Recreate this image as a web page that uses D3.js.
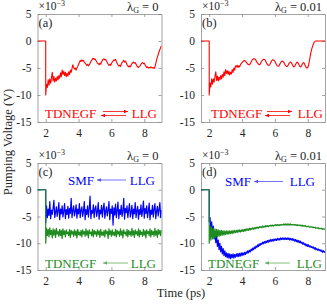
<!DOCTYPE html>
<html><head><meta charset="utf-8">
<script src="https://cdn.jsdelivr.net/npm/d3@7"></script>
<style>
html,body{margin:0;padding:0;background:#fff;}
svg{display:block;}
</style></head>
<body><svg id="chart" width="327" height="305"></svg>
<script>
// ---------- data ----------
const xDomain = [1.5, 9.05];
const yDomain = [-15, 5];
const xTicks = [2, 4, 6, 8];
const yTicks = [5, 0, -5, -10, -15];
const preT = [1.5, 2.0];       // flat segment before the pulse
const preV = [0, 0];
const tStart = 2.0, dt = 0.05; // sampling of the series below

const aRed = [-10,-8.0,-8.6,-7.2,-8.2,-7.0,-7.8,-6.8,-5.8,-7.4,-6.6,-7.6,-6.9,-7.4,-6.6,-7.2,-6.4,-6.9,-5.9,-6.6,
-5.4,-6.2,-5.6,-6.4,-5.8,-6.6,-6.0,-6.5,-5.7,-6.2,-5.4,-5.8,-5.1,-4.4,-4.9,-5.2,-5.0,-5.4,-5.0,-4.7,
-4.3,-4.0,-3.6,-3.8,-3.5,-3.7,-3.6,-3.9,-4.1,-4.3,-4.5,-4.3,-4.6,-4.4,-4.1,-3.8,-3.6,-3.3,-3.2,-3.4,
-3.3,-3.6,-3.8,-4.1,-4.2,-4.4,-4.1,-4.3,-3.9,-3.6,-3.4,-3.3,-3.5,-3.4,-3.7,-4.0,-4.3,-4.5,-4.3,-4.5,
-4.2,-3.9,-3.7,-3.5,-3.6,-3.4,-3.8,-4.1,-4.4,-4.6,-4.5,-4.7,-4.3,-4.0,-3.8,-3.6,-3.9,-3.7,-4.0,-4.4,
-4.6,-4.8,-4.6,-4.8,-4.5,-4.2,-4.0,-3.9,-4.1,-4.0,-4.3,-4.6,-4.8,-4.9,-4.7,-4.6,-4.3,-4.1,-4.0,-4.2,
-4.1,-4.4,-4.7,-4.9,-4.8,-5.0,-4.9,-5.0,-4.8,-4.9,-5.0,-4.9,-5.1,-4.8,-4.2,-3.5,-3.0,-2.5,-2.0,-1.6,
-1.2,-0.9];

const bRed = [-10,-7.8,-8.5,-7.0,-8.0,-7.0,-7.6,-6.6,-5.7,-7.3,-6.5,-7.4,-6.7,-7.2,-6.4,-7.0,-6.2,-6.7,-5.7,-6.4,
-5.3,-6.0,-5.5,-6.2,-5.6,-6.3,-5.8,-6.1,-5.3,-5.8,-5.0,-5.4,-4.6,-4.8,-4.5,-4.9,-4.6,-4.8,-4.4,-4.2,
-4.0,-3.8,-3.7,-3.6,-3.7,-3.9,-4.1,-4.3,-4.4,-4.4,-4.2,-3.9,-3.6,-3.4,-3.3,-3.3,-3.4,-3.6,-3.9,-4.1,
-4.3,-4.4,-4.3,-4.0,-3.7,-3.5,-3.4,-3.4,-3.5,-3.8,-4.1,-4.4,-4.5,-4.5,-4.3,-4.0,-3.7,-3.5,-3.5,-3.6,
-3.8,-4.1,-4.4,-4.6,-4.7,-4.6,-4.3,-4.0,-3.8,-3.7,-3.8,-4.0,-4.3,-4.6,-4.7,-4.7,-4.5,-4.2,-4.0,-3.9,
-4.0,-4.3,-4.6,-4.8,-4.7,-4.4,-4.1,-3.9,-4.0,-4.3,-4.6,-4.8,-4.7,-4.4,-4.1,-4.0,-4.2,-4.6,-4.9,-5.0,
-4.9,-4.5,-3.7,-2.8,-2.0,-1.4,-0.9,-0.5,-0.2,-0.05,0,0,0,0,0,0,0,0,0,0,
0,0];

const cBlue = [-6.2,-3.0,-5.2,-3.6,-4.8,-2.2,-5.4,-3.8,-4.6,-3.4,-2.0,-5.2,-4.2,-3.2,-5.0,-3.9,-2.4,-5.6,-3.6,-4.5,
-3.0,-5.1,-4.0,-2.6,-5.4,-3.7,-4.6,-3.1,-5.3,-3.5,-4.4,-1.6,-5.2,-3.9,-3.0,-4.9,-4.1,-2.8,-5.3,-3.6,
-4.5,-2.6,-5.2,-3.8,-3.2,-5.0,-4.0,-2.2,-5.6,-3.7,-4.6,-3.0,-5.1,-3.5,-1.2,-5.4,-3.9,-4.4,-2.8,-5.2,
-3.6,-3.0,-5.0,-4.1,-2.4,-5.5,-3.8,-4.5,-2.9,-5.1,-3.5,-2.5,-5.3,-4.0,-3.2,-4.9,-3.9,-2.2,-5.6,-3.6,
-4.4,-3.0,-6.6,-3.4,-4.7,-2.7,-5.2,-3.9,-2.3,-5.4,-3.7,-4.6,-2.9,-5.0,-4.0,-1.6,-5.5,-3.5,-4.3,-3.0,
-5.2,-3.8,-2.6,-5.1,-4.2,-2.9,-5.4,-3.6,-4.5,-2.4,-5.2,-3.9,-3.1,-5.5,-3.7,-4.6,-2.8,-5.0,-3.9,-2.1,
-5.3,-3.5,-4.4,-3.0,-5.2,-4.0,-2.5,-5.6,-3.8,-4.6,-2.9,-5.1,-3.6,-2.6,-5.4,-4.0,-3.1,-4.9,-3.7,-2.4,
-5.2,-3.8];

const cGreen = [-10.0,-7.2,-8.6,-7.4,-8.8,-7.1,-8.4,-7.6,-9.0,-7.3,-8.5,-7.5,-8.9,-7.2,-8.3,-7.8,-8.7,-7.4,-8.6,-7.6,
-9.1,-7.3,-8.4,-7.7,-8.8,-7.5,-8.2,-7.9,-8.6,-7.4,-8.9,-7.6,-8.3,-7.8,-8.7,-7.5,-8.5,-7.7,-9.0,-7.4,
-8.4,-7.9,-8.6,-7.6,-8.8,-7.5,-8.3,-7.8,-8.7,-7.3,-8.5,-7.7,-9.0,-7.5,-8.2,-7.9,-8.6,-7.4,-8.8,-7.6,
-8.3,-7.8,-8.7,-7.5,-8.4,-7.7,-8.9,-7.4,-8.5,-7.9,-8.6,-7.6,-8.8,-7.5,-8.2,-7.8,-9.1,-7.3,-8.4,-7.7,
-8.7,-7.5,-8.5,-7.9,-8.6,-7.4,-8.8,-7.6,-8.3,-7.8,-8.7,-7.3,-8.5,-7.7,-9.0,-7.5,-8.2,-7.9,-8.6,-7.4,
-8.8,-7.6,-8.4,-7.8,-8.7,-7.2,-8.5,-7.7,-8.9,-7.5,-8.3,-7.8,-8.6,-7.3,-8.8,-7.6,-8.4,-7.9,-8.7,-7.4,
-8.5,-7.7,-9.0,-7.5,-8.2,-7.8,-8.6,-7.3,-8.8,-7.6,-8.4,-7.8,-8.7,-7.2,-8.5,-7.7,-8.9,-7.4,-8.3,-7.6,
-8.6,-7.5];

const dBlue = [-6.0,-5.2,-7.8,-6.0,-8.4,-6.8,-9.2,-7.8,-9.9,-8.6,-10.6,-9.4,-11.2,-10.0,-11.6,-10.6,-12.0,-11.0,-12.3,-11.4,
-12.5,-11.8,-12.7,-11.9,-12.8,-12.0,-12.9,-12.1,-12.7,-12.0,-12.8,-12.1,-12.6,-12.0,-12.5,-11.9,-12.5,-11.9,-12.4,-11.8,
-12.3,-11.8,-12.2,-11.7,-12.1,-11.6,-11.9,-11.4,-11.8,-11.3,-11.6,-11.1,-11.4,-10.9,-11.2,-10.7,-11.0,-10.5,-10.8,-10.3,
-10.6,-10.1,-10.4,-10.0,-10.2,-9.8,-10.1,-9.7,-10.0,-9.6,-9.9,-9.5,-9.8,-9.4,-9.7,-9.3,-9.6,-9.3,-9.6,-9.2,
-9.5,-9.2,-9.5,-9.1,-9.4,-9.1,-9.4,-9.0,-9.3,-9.0,-9.3,-9.0,-9.3,-9.0,-9.3,-9.0,-9.3,-9.0,-9.4,-9.1,
-9.4,-9.1,-9.5,-9.2,-9.6,-9.3,-9.7,-9.4,-9.8,-9.5,-9.9,-9.6,-10.0,-9.8,-10.2,-9.9,-10.3,-10.1,-10.5,-10.2,
-10.6,-10.3,-10.7,-10.5,-10.8,-10.6,-10.9,-10.7,-11.1,-10.8,-11.2,-11.0,-11.3,-11.1,-11.4,-11.2,-11.5,-11.3,-11.7,-11.4,
-11.7,-11.5];

const dGreen = [-10.0,-6.8,-9.4,-7.0,-9.2,-7.2,-9.0,-7.3,-8.9,-7.4,-8.8,-7.5,-8.7,-7.6,-8.6,-7.6,-8.5,-7.7,-8.5,-7.7,
-8.4,-7.7,-8.3,-7.7,-8.3,-7.7,-8.2,-7.7,-8.2,-7.6,-8.1,-7.6,-8.0,-7.6,-8.0,-7.5,-7.9,-7.5,-7.9,-7.5,
-7.8,-7.4,-7.8,-7.4,-7.7,-7.3,-7.6,-7.3,-7.6,-7.2,-7.5,-7.2,-7.4,-7.1,-7.4,-7.1,-7.3,-7.0,-7.2,-7.0,
-7.2,-6.9,-7.1,-6.9,-7.1,-6.8,-7.0,-6.8,-7.0,-6.7,-6.9,-6.7,-6.9,-6.7,-6.8,-6.6,-6.8,-6.6,-6.8,-6.6,
-6.7,-6.5,-6.7,-6.5,-6.7,-6.5,-6.7,-6.5,-6.6,-6.5,-6.6,-6.4,-6.6,-6.4,-6.6,-6.4,-6.6,-6.4,-6.6,-6.4,
-6.6,-6.5,-6.6,-6.5,-6.6,-6.5,-6.7,-6.5,-6.7,-6.6,-6.7,-6.6,-6.8,-6.6,-6.8,-6.7,-6.8,-6.7,-6.9,-6.8,
-6.9,-6.8,-7.0,-6.9,-7.0,-6.9,-7.1,-7.0,-7.1,-7.0,-7.2,-7.1,-7.2,-7.1,-7.3,-7.2,-7.3,-7.2,-7.4,-7.3,
-7.4,-7.3];

// ---------- styling / layout ----------
const FONT = "Liberation Serif";
const RED = "#ff0000", BLUE = "#0000ff", GREEN = "#1e8c1e";
const panels = [
  {x0:37.5, x1:161.5, y0:14, y1:122, tag:"(a)", lam:"0",
   series:[{v:aRed,c:RED,w:1.1}],
   notes:[{t:"TDNEGF",x:45,y:118,c:RED,a:"start"},{t:"LLG",x:157,y:118,c:RED,a:"end"},
          {x1:103,x2:128,y:111.5,dir:1,c:RED},{x1:101,x2:126,y:115.5,dir:-1,c:RED}]},
  {x0:201, x1:325, y0:14, y1:122, tag:"(b)", lam:"0.01",
   series:[{v:bRed,c:RED,w:1.1}],
   notes:[{t:"TDNEGF",x:211,y:118,c:RED,a:"start"},{t:"LLG",x:323,y:118,c:RED,a:"end"},
          {x1:267,x2:292,y:111.5,dir:1,c:RED},{x1:265,x2:290,y:115.5,dir:-1,c:RED}]},
  {x0:37.5, x1:161.5, y0:163, y1:270, tag:"(c)", lam:"0",
   series:[{v:cBlue,c:BLUE,w:1.2},{v:cGreen,c:GREEN,w:1.2}],
   notes:[{t:"SMF",x:68,y:184.5,c:BLUE,a:"start"},{t:"LLG",x:155,y:184.5,c:BLUE,a:"end"},
          {x1:97,x2:126,y:180,dir:-1,c:"#5050ff"},
          {t:"TDNEGF",x:45,y:267.5,c:GREEN,a:"start"},{t:"LLG",x:156,y:267.5,c:GREEN,a:"end"},
          {x1:103,x2:128,y:263,dir:-1,c:"#60b060"}]},
  {x0:201, x1:325, y0:163, y1:270, tag:"(d)", lam:"0.01",
   series:[{v:dBlue,c:BLUE,w:1.2},{v:dGreen,c:GREEN,w:1.2}],
   notes:[{t:"SMF",x:225,y:186,c:BLUE,a:"start"},{t:"LLG",x:315,y:186,c:BLUE,a:"end"},
          {x1:254,x2:283,y:181.5,dir:-1,c:"#5050ff"},
          {t:"TDNEGF",x:208,y:267.5,c:GREEN,a:"start"},{t:"LLG",x:322,y:267.5,c:GREEN,a:"end"},
          {x1:265,x2:290,y:263,dir:-1,c:"#60b060"}]}
];

const svg = d3.select("#chart");
const defs = svg.append("defs");
const AX = "#262626";

panels.forEach((p, pi) => {
  const x = d3.scaleLinear().domain(xDomain).range([p.x0, p.x1]);
  const y = d3.scaleLinear().domain(yDomain).range([p.y1, p.y0]);
  const g = svg.append("g");

  defs.append("clipPath").attr("id", "clip" + pi).append("rect")
    .attr("x", p.x0).attr("y", p.y0).attr("width", p.x1 - p.x0).attr("height", p.y1 - p.y0);

  const fmt = d => String(d);
  const axB = g.append("g").attr("transform", `translate(0,${p.y1})`)
    .call(d3.axisBottom(x).tickValues(xTicks).tickSizeInner(-3).tickSizeOuter(0).tickPadding(7).tickFormat(fmt));
  const axT = g.append("g").attr("transform", `translate(0,${p.y0})`)
    .call(d3.axisTop(x).tickValues(xTicks).tickSizeInner(-3).tickSizeOuter(0).tickFormat(""));
  const axL = g.append("g").attr("transform", `translate(${p.x0},0)`)
    .call(d3.axisLeft(y).tickValues(yTicks).tickSizeInner(-3).tickSizeOuter(0).tickPadding(6).tickFormat(fmt));
  const axR = g.append("g").attr("transform", `translate(${p.x1},0)`)
    .call(d3.axisRight(y).tickValues(yTicks).tickSizeInner(-3).tickSizeOuter(0).tickFormat(""));
  [axB, axT, axL, axR].forEach(a => {
    a.attr("font-family", FONT).attr("font-size", 11.5);
    a.select(".domain").attr("stroke", "#8c8c8c").attr("stroke-width", 0.8);
    a.selectAll(".tick line").attr("stroke", "#8c8c8c").attr("stroke-width", 0.8);
    a.selectAll("text").attr("fill", AX);
  });

  // data lines
  const lineGen = d3.line().x(d => x(d[0])).y(d => y(d[1]));
  const plot = g.append("g").attr("clip-path", `url(#clip${pi})`);
  p.series.forEach(s => {
    const pts = preT.map((t, i) => [t, preV[i]]).concat(s.v.map((v, i) => [tStart + i * dt, v]));
    plot.append("path").datum(pts).attr("d", lineGen)
      .attr("fill", "none").attr("stroke", s.c).attr("stroke-width", s.w).attr("stroke-linejoin", "round");
  });

  // labels
  g.append("text").attr("x", p.x0 + 1).attr("y", p.y0 + 13).attr("fill", AX)
    .attr("font-family", FONT).attr("font-size", 12.5).text(p.tag);
  const ex = g.append("text").attr("x", p.x0 + 1).attr("y", p.y0 - 4).attr("fill", AX)
    .attr("font-family", FONT).attr("font-size", 11.5);
  ex.append("tspan").text("\u00d710");
  ex.append("tspan").attr("dy", -4).attr("font-size", 8).text("\u22123");
  const lt = g.append("text").attr("x", p.x1 - 3).attr("y", p.y0 - 3).attr("fill", AX)
    .attr("text-anchor", "end").attr("font-family", FONT).attr("font-size", 12.5);
  lt.append("tspan").text("\u03bb");
  lt.append("tspan").attr("dy", 2).attr("font-size", 8).text("G");
  lt.append("tspan").attr("dy", -2).text(" = " + p.lam);

  // annotations
  p.notes.forEach(n => {
    if (n.t) {
      g.append("text").attr("x", n.x).attr("y", n.y).attr("fill", n.c)
        .attr("text-anchor", n.a).attr("font-family", FONT).attr("font-size", 13).text(n.t);
    } else {
      g.append("line").attr("x1", n.x1).attr("x2", n.x2).attr("y1", n.y).attr("y2", n.y)
        .attr("stroke", n.c).attr("stroke-width", 0.8);
      const tip = n.dir > 0 ? n.x2 : n.x1;
      const back = tip - n.dir * 4;
      g.append("path").attr("d", `M${tip},${n.y}L${back},${n.y - 1.8}L${back},${n.y + 1.8}Z`).attr("fill", n.c);
    }
  });
});

svg.append("text").attr("transform", "translate(12,142) rotate(-90)")
  .attr("text-anchor", "middle").attr("fill", AX).attr("font-family", FONT).attr("font-size", 12.5)
  .text("Pumping Voltage (V)");
svg.append("text").attr("x", 181).attr("y", 297).attr("text-anchor", "middle")
  .attr("fill", AX).attr("font-family", FONT).attr("font-size", 12.5).text("Time (ps)");
</script></body></html>
